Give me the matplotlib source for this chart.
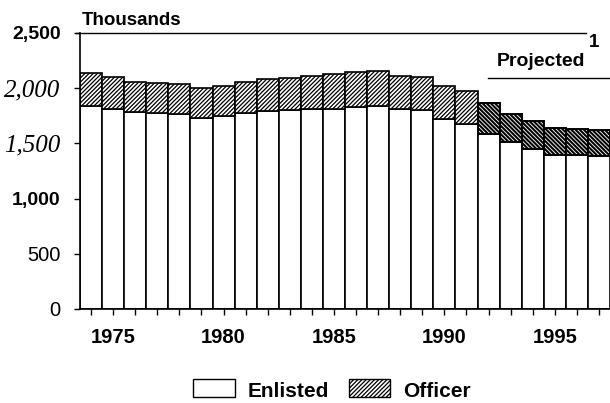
import matplotlib
matplotlib.use("Agg")
import matplotlib.pyplot as plt
from matplotlib.patches import Rectangle
from matplotlib.lines import Line2D

# ---- data (thousands) ----
years = list(range(1974, 1998))
enlisted = [1835, 1814, 1781, 1772, 1763, 1730, 1748, 1775, 1790, 1799, 1810, 1814,
            1826, 1841, 1810, 1805, 1724, 1676, 1586, 1511, 1445, 1394, 1391, 1385]
officer = [299, 284, 278, 272, 272, 269, 273, 278, 294, 296, 303, 311,
           317, 311, 303, 293, 297, 300, 278, 258, 255, 246, 243, 237]
first_projected = 1992
ytick_values = [0, 500, 1000, 1500, 2000, 2500]
ytick_labels = ["0", "500", "1,000", "1,500", "2,000", "2,500"]
xtick_label_years = [1975, 1980, 1985, 1990, 1995]

W, H = 610, 403
SANS = "Liberation Sans"
SERIF = "Liberation Serif"
HIST_HATCH = "/" * 8
PROJ_HATCH = "\\" * 8

fig = plt.figure(figsize=(W / 100, H / 100), dpi=100)
ax = fig.add_axes([80 / W, 94 / H, 530 / W, 276 / H])
ax.set_xlim(years[0] - 0.5, years[-1] + 0.5)
ax.set_ylim(0, 2500)

hist_idx = [i for i, y in enumerate(years) if y < first_projected]
proj_idx = [i for i, y in enumerate(years) if y >= first_projected]

# enlisted (all)
ax.bar(years, enlisted, width=1.0, color="white", edgecolor="black", linewidth=1.2, zorder=2)

# officer historical
with plt.rc_context({"hatch.linewidth": 0.9}):
    hb = ax.bar([years[i] for i in hist_idx], [officer[i] for i in hist_idx],
                bottom=[enlisted[i] for i in hist_idx], width=1.0, color="white",
                edgecolor="black", linewidth=1.2, hatch=HIST_HATCH, zorder=2)
with plt.rc_context({"hatch.linewidth": 1.5}):
    pb = ax.bar([years[i] for i in proj_idx], [officer[i] for i in proj_idx],
                bottom=[enlisted[i] for i in proj_idx], width=1.0, color="white",
                edgecolor="black", linewidth=1.4, hatch=PROJ_HATCH, zorder=2)
for p in hb:
    if hasattr(p, "set_hatch_linewidth"):
        p.set_hatch_linewidth(0.9)
for p in pb:
    if hasattr(p, "set_hatch_linewidth"):
        p.set_hatch_linewidth(1.5)

# spines
for s in ["top", "right"]:
    ax.spines[s].set_visible(False)
ax.spines["left"].set_linewidth(1.2)
ax.spines["bottom"].set_linewidth(1.2)

# top rule (not across the last bar)
ax.plot([years[0] - 0.7, 1996.4], [2500, 2500], color="black", lw=1.0, clip_on=False, zorder=3)

# y ticks
ax.set_yticks(ytick_values)
ax.set_yticklabels(ytick_labels)
ax.tick_params(axis="y", direction="out", length=4, width=1.0, pad=10)
styles = {
    "0": (SANS, "normal", "normal", 14.5),
    "500": (SANS, "normal", "normal", 14.5),
    "1,000": (SANS, "normal", "bold", 14),
    "1,500": (SERIF, "italic", "normal", 18),
    "2,000": (SERIF, "italic", "normal", 18),
    "2,500": (SANS, "normal", "bold", 14),
}
for lab in ax.get_yticklabels():
    fam, st, wt, sz = styles[lab.get_text()]
    lab.set_fontfamily(fam)
    lab.set_fontstyle(st)
    lab.set_fontweight(wt)
    lab.set_fontsize(sz)

# x ticks
ax.set_xticks(years)
ax.set_xticklabels([str(y) if y in xtick_label_years else "" for y in years],
                   fontfamily=SANS, fontweight="bold", fontsize=14.5)
ax.tick_params(axis="x", direction="out", length=4, width=1.0, pad=10)

# header texts
fig.text(82 / W, 1 - 25 / H, "Thousands", fontfamily=SANS, fontweight="bold",
         fontsize=13.5, va="baseline", ha="left")
fig.text(589 / W, 1 - 47 / H, "1", fontfamily=SANS, fontweight="bold",
         fontsize=13.5, va="baseline", ha="left")
fig.text(497 / W, 1 - 66 / H, "Projected", fontfamily=SANS, fontweight="bold",
         fontsize=14, va="baseline", ha="left")
fig.add_artist(Line2D([488 / W, 1.0], [1 - 78 / H, 1 - 78 / H], color="black", lw=1.0))

# legend
fig.add_artist(Rectangle((193 / W, 1 - 397 / H), 42 / W, 18 / H, transform=fig.transFigure,
                         facecolor="white", edgecolor="black", lw=1.0))
fig.text(248 / W, 1 - 397 / H, "Enlisted", fontfamily=SANS, fontweight="bold",
         fontsize=15, va="baseline", ha="left")
with plt.rc_context({"hatch.linewidth": 0.9}):
    lp = Rectangle((349 / W, 1 - 397 / H), 41 / W, 18 / H, transform=fig.transFigure,
                   facecolor="white", edgecolor="black", lw=1.0, hatch=HIST_HATCH)
fig.add_artist(lp)
fig.text(403 / W, 1 - 397 / H, "Officer", fontfamily=SANS, fontweight="bold",
         fontsize=15, va="baseline", ha="left")

fig.savefig("out.png", dpi=100)
